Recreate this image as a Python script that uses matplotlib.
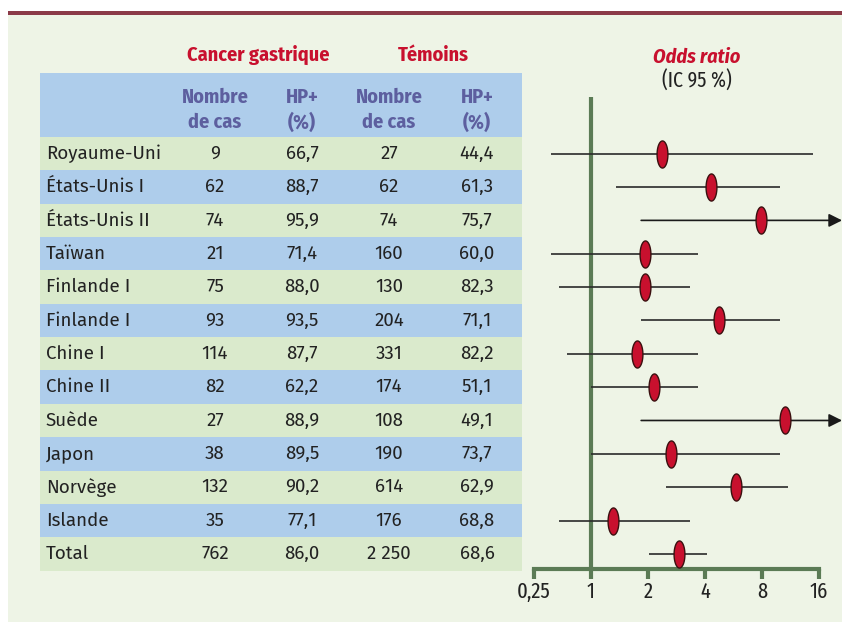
import numpy as np
import matplotlib
matplotlib.use('Agg')
import matplotlib.pyplot as plt
from matplotlib.patches import Rectangle
from matplotlib.path import Path
from matplotlib.transforms import blended_transform_factory

# donnees
pays = ['Royaume-Uni', 'États-Unis I', 'États-Unis II', 'Taïwan', 'Finlande I',
        'Finlande I', 'Chine I', 'Chine II', 'Suède', 'Japon', 'Norvège',
        'Islande', 'Total']
cas_n = ['9', '62', '74', '21', '75', '93', '114', '82', '27', '38', '132', '35', '762']
cas_hp = ['66,7', '88,7', '95,9', '71,4', '88,0', '93,5', '87,7', '62,2', '88,9',
          '89,5', '90,2', '77,1', '86,0']
tem_n = ['27', '62', '74', '160', '130', '204', '331', '174', '108', '190', '614',
         '176', '2 250']
tem_hp = ['44,4', '61,3', '75,7', '60,0', '82,3', '71,1', '82,2', '51,1', '49,1',
          '73,7', '62,9', '68,8', '68,6']
odds = [2.36, 4.3, 7.9, 1.93, 1.93, 4.73, 1.75, 2.15, 10.6, 2.63, 5.86, 1.30, 2.9]
ic_bas = [0.375, 1.36, 1.84, 0.375, 0.455, 1.84, 0.56, 1.0, 1.84, 1.0, 2.48, 0.455, 2.02]
ic_haut = [14.9, 10.0, np.inf, 3.68, 3.34, 10.0, 3.68, 3.68, np.inf, 10.0, 11.0, 3.34, 4.1]
ticks = [0.25, 1, 2, 4, 8, 16]
tick_labels = ['0,25', '1', '2', '4', '8', '16']

W, H = 842, 622
BG = '#eef4e6'
VERT = '#daeacc'
BLEU = '#aecdeb'
ROUGE = '#c8102e'
VIOLET = '#5d5f9f'
AXE = '#5b7b55'
COND = ['Fira Sans Condensed', 'DejaVu Sans']
XCOND = ['Fira Sans Extra Condensed', 'DejaVu Sans']
CORPS = ['Fira Sans', 'DejaVu Sans']

def fx(x):
    return x / W

def fy(y):
    return 1 - y / H

fig = plt.figure(figsize=(W / 100, H / 100), dpi=100)
fig.patch.set_facecolor('white')

def rect(x0, y0, x1, y1, color):
    fig.add_artist(Rectangle((fx(x0), fy(y1)), fx(x1) - fx(x0), fy(y0) - fy(y1),
                             transform=fig.transFigure, facecolor=color,
                             edgecolor='none', zorder=0))

rect(8, 15, W, H, BG)
rect(8, 11, W, 15, '#8b3a48')

# tableau
x_tab0, x_tab1 = 40, 522
y_head, y_row0, h_row = 73, 137, 33.35
rect(x_tab0, y_head, x_tab1, y_row0, BLEU)
col_x = [215, 302, 389, 477]

fig.text(fx(258), fy(55), 'Cancer gastrique', color=ROUGE, fontsize=14.5,
         fontweight='bold', family=COND, ha='center', va='center')
fig.text(fx(433), fy(55), 'Témoins', color=ROUGE, fontsize=14.5,
         fontweight='bold', family=COND, ha='center', va='center')
fig.text(fx(697), fy(57), 'Odds ratio', color=ROUGE, fontsize=14.5,
         fontweight='bold', style='italic', family=COND, ha='center', va='center')
fig.text(fx(697), fy(81), '(IC 95 %)', color='#222222', fontsize=15.5,
         family=XCOND, ha='center', va='center')

for cx, lab in zip(col_x, ['Nombre\nde cas', 'HP+\n(%)', 'Nombre\nde cas', 'HP+\n(%)']):
    fig.text(fx(cx), fy(110), lab, color=VIOLET, fontsize=14.5, fontweight='bold',
             family=COND, ha='center', va='center', linespacing=1.35)

for i, p in enumerate(pays):
    y0 = y_row0 + i * h_row
    rect(x_tab0, y0, x_tab1, y0 + h_row, VERT if i % 2 == 0 else BLEU)
    yc = fy(y0 + h_row / 2)
    fig.text(fx(46), yc, p, fontsize=13.5, color='#222222', family=CORPS,
             ha='left', va='center')
    for cx, val in zip(col_x, [cas_n[i], cas_hp[i], tem_n[i], tem_hp[i]]):
        fig.text(fx(cx), yc, val, fontsize=13.5, color='#222222', family=CORPS,
                 ha='center', va='center')

# forest plot
def fwd(v):
    v = np.asarray(v, dtype=float)
    with np.errstate(divide='ignore', invalid='ignore'):
        l = np.log2(v)
    return np.where(l < 0, l / 2, l)

def inv(u):
    u = np.asarray(u, dtype=float)
    return np.where(u < 0, 2 ** (2 * u), 2 ** u)

ax_x0, ax_x1, ax_y0, ax_y1 = 534, 819, 97, 569
ax = fig.add_axes([fx(ax_x0), fy(ax_y1), fx(ax_x1) - fx(ax_x0), fy(ax_y0) - fy(ax_y1)])
ax.set_facecolor('none')
ax.set_xscale('function', functions=(fwd, inv))
ax.set_xlim(0.25, 16)
y_top = (ax_y0 - (y_row0 + h_row / 2)) / h_row
y_bot = (ax_y1 - (y_row0 + h_row / 2)) / h_row
ax.set_ylim(y_bot, y_top)

for s in ['top', 'right', 'left']:
    ax.spines[s].set_visible(False)
ax.spines['bottom'].set_color(AXE)
ax.spines['bottom'].set_linewidth(3)
ax.set_yticks([])
ax.set_xticks(ticks)
ax.set_xticklabels(tick_labels, family=XCOND, fontsize=16, color='#222222')
ax.xaxis.set_minor_locator(matplotlib.ticker.NullLocator())
ax.tick_params(axis='x', length=7, width=3, color=AXE, pad=2)
ax.axvline(1, color=AXE, lw=3, zorder=1)

theta = np.linspace(0, 2 * np.pi, 60)
ellipse = Path(np.column_stack([0.4 * np.cos(theta), np.sin(theta)]))
trans = blended_transform_factory(ax.transAxes, ax.transData)
for i in range(len(pays)):
    hi = ic_haut[i]
    if np.isfinite(hi):
        ax.plot([ic_bas[i], hi], [i, i], color='#2a2a2a', lw=1.2, zorder=2,
                solid_capstyle='butt')
    else:
        ax.annotate('', xy=(1.081, i), xycoords=trans, xytext=(ic_bas[i], i),
                    textcoords='data',
                    arrowprops=dict(arrowstyle='-|>', color='#1a1a1a', lw=1.2,
                                    mutation_scale=20, shrinkA=0, shrinkB=0),
                    annotation_clip=False, zorder=2)
    ax.plot(odds[i], i, marker=ellipse, markersize=19.5, color=ROUGE,
            markeredgecolor='#3a1010', markeredgewidth=1, zorder=3, clip_on=False)

fig.savefig('out.png', dpi=100, facecolor=fig.get_facecolor())
